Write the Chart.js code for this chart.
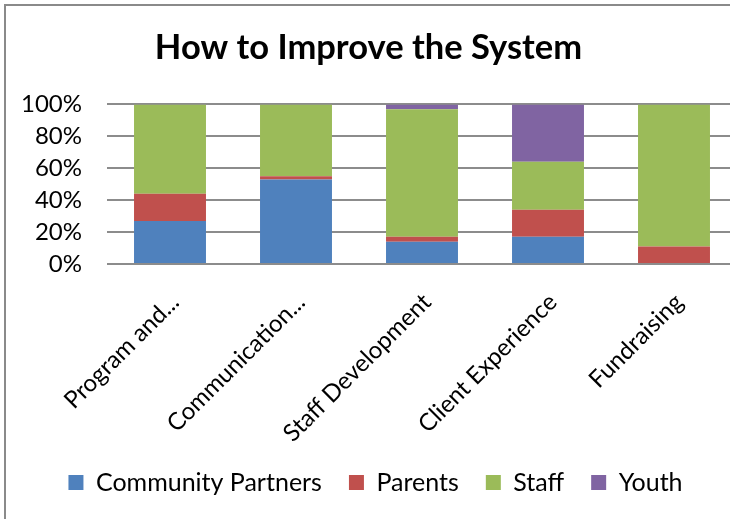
<!DOCTYPE html>
<html>
<head>
<meta charset="utf-8">
<script src="https://cdn.jsdelivr.net/npm/chart.js@4.4.1/dist/chart.umd.min.js"></script>
<style>
  html, body { margin: 0; padding: 0; overflow: hidden; background: #fff; }
  #wrap { position: relative; width: 730px; height: 519px; overflow: hidden; }
  #chart { display: block; }
</style>
</head>
<body>
<div id="wrap"><canvas id="chart" width="740" height="519"></canvas></div>
<script>
const categories = ['Program and...', 'Communication...', 'Staff Development', 'Client Experience', 'Fundraising']
const communityPartners = [27, 53, 14, 17, 0]
const parents = [17, 2, 3, 17, 11]
const staff = [56, 45, 80, 30, 89]
const youth = [0, 0, 3, 36, 0]
const yTickLabels = ['0%', '20%', '40%', '60%', '80%', '100%']

const font = 'Lato, "Open Sans", sans-serif'

const series = [
  { label: 'Community Partners', data: communityPartners, color: '#4F81BD' },
  { label: 'Parents', data: parents, color: '#C0504D' },
  { label: 'Staff', data: staff, color: '#9BBB59' },
  { label: 'Youth', data: youth, color: '#8064A2' }
]

const frame = {
  id: 'frame',
  afterLayout(chart) {
    // legend row sits a little right of the canvas centre
    chart.legend.left += 7
    chart.legend.right += 7
  },
  beforeDraw(chart) {
    // gray outline: only the left and top edges are on the page
    const ctx = chart.ctx
    ctx.save()
    ctx.fillStyle = '#8a8a8a'
    ctx.fillRect(4, 4, 2, chart.height - 4)
    ctx.fillRect(4, 4, 726, 2)
    ctx.restore()
  }
}

new Chart(document.getElementById('chart').getContext('2d'), {
  type: 'bar',
  data: {
    labels: categories,
    datasets: series.map(s => ({
      label: s.label,
      data: s.data,
      backgroundColor: s.color,
      borderWidth: 0,
      barPercentage: 1,
      categoryPercentage: 0.571
    }))
  },
  options: {
    responsive: false,
    animation: false,
    layout: { padding: { left: 0, right: 3, top: 0, bottom: 14 } },
    scales: {
      x: {
        stacked: true,
        grid: { display: false },
        border: { display: false },
        ticks: {
          autoSkip: false,
          maxRotation: 45,
          minRotation: 45,
          labelOffset: 5,
          padding: 16,
          color: '#000',
          font: { family: font, size: 24 }
        },
        afterFit(scale) { scale.height = 179 }
      },
      y: {
        stacked: true,
        min: 0,
        max: 100,
        grid: { color: '#8c8c8c', lineWidth: 2, drawTicks: false },
        border: { display: false },
        ticks: {
          stepSize: 20,
          padding: 25,
          color: '#000',
          font: { family: font, size: 24 },
          callback: (v, i) => yTickLabels[i]
        },
        afterFit(scale) { scale.width = 107 }
      }
    },
    plugins: {
      title: {
        display: true,
        text: 'How to Improve the System',
        color: '#000',
        font: { family: font, size: 34.5, weight: 'bold' },
        lineHeight: 1.2,
        padding: { top: 27, bottom: 36 }
      },
      legend: {
        position: 'bottom',
        labels: {
          boxWidth: 15,
          boxHeight: 15,
          padding: 27,
          color: '#000',
          font: { family: font, size: 25 }
        }
      },
      tooltip: { enabled: false }
    }
  },
  plugins: [frame]
})
</script>
</body>
</html>
